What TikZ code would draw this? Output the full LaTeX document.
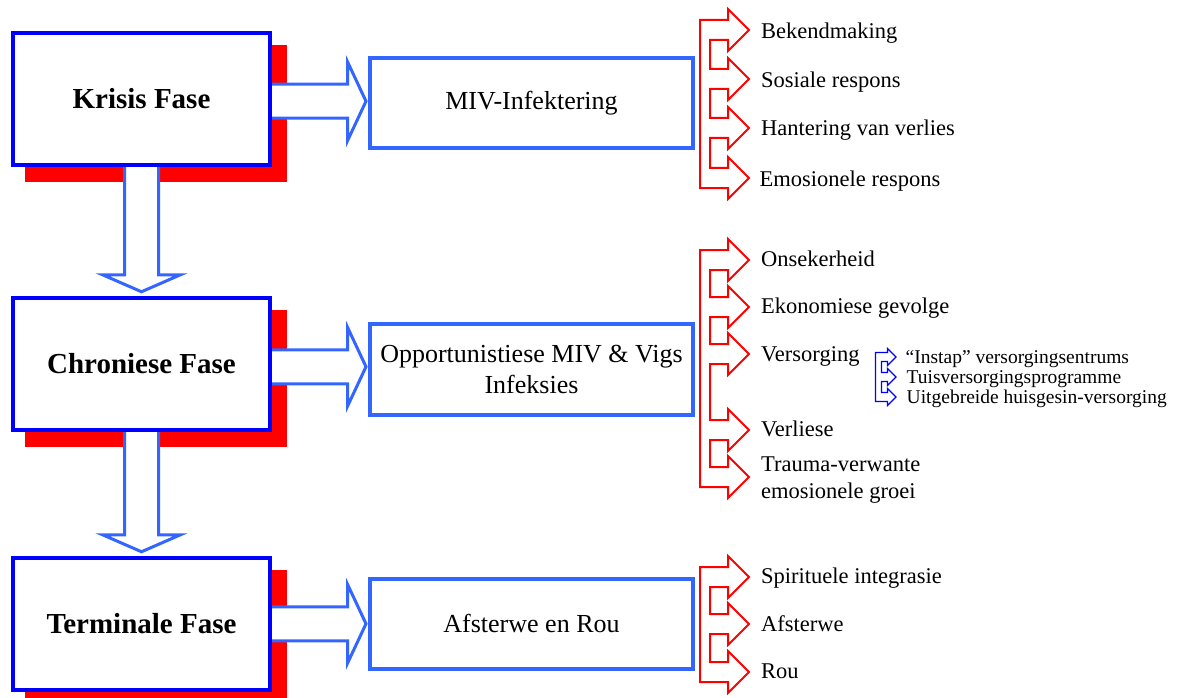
\documentclass[tikz,border=0pt]{standalone}
\usepackage{fontspec}
\setmainfont{Liberation Serif}
\usetikzlibrary{calc,backgrounds}
\definecolor{boxblue}{RGB}{0,0,255}
\definecolor{lightblue}{RGB}{51,102,255}
\definecolor{shadowred}{RGB}{255,0,0}
\tikzset{
 phase/.style={draw=boxblue, line width=4.5pt, fill=white, minimum width=257pt, minimum height=132pt, inner sep=0pt, font=\fontsize{29}{34}\selectfont\bfseries},
 stage/.style={draw=lightblue, line width=4pt, fill=white, minimum width=323pt, minimum height=90pt, inner sep=0pt, align=center, font=\fontsize{26}{31}\selectfont},
 fatarrow/.style={draw=lightblue, line width=3pt, fill=white, line join=miter},
 redcomb/.style={draw=shadowred, line width=2pt, line join=miter},
 bluecomb/.style={draw=boxblue, line width=1.2pt, line join=miter},
 lbl/.style={anchor=base west, inner sep=0pt, font=\fontsize{22.5}{27.5}\selectfont},
 sublbl/.style={anchor=base west, inner sep=0pt, font=\fontsize{19.5}{20}\selectfont},
}
% comb of arrows: #1 style, #2 first centre, #3 all centres, #4 last centre
\newcommand\comb[4]{%
  \draw[#1] (\co,#2-\cs) \foreach \c in {#3} { -- (\ci,\c-\cs) -- (\cb,\c-\cs) -- (\cb,\c-\ch) -- (\ct,\c) -- (\cb,\c+\ch) -- (\cb,\c+\cs) -- (\ci,\c+\cs) } -- (\co,#4+\cs) -- cycle;}
\newcommand\fatright[2]{%
  \coordinate (M) at ($(#1.east)!0.5!(#2.west)$);
  \coordinate (S) at (#1.east |- M);
  \coordinate (E) at (#2.west |- M);
  \draw[fatarrow] ($(S)+(-6,-17)$) -- ($(E)+(-20.5,-17)$) -- ($(E)+(-20.5,-39.5)$) -- ($(E)+(-2,0)$) -- ($(E)+(-20.5,39.5)$) -- ($(E)+(-20.5,17)$) -- ($(S)+(-6,17)$) -- cycle;}
\newcommand\fatdown[2]{%
  \coordinate (S) at (#1.south);
  \coordinate (E) at (#2.north);
  \draw[fatarrow] ($(S)+(-17,-6)$) -- ($(E)+(-17,-21)$) -- ($(E)+(-39,-21)$) -- ($(E)+(0,-4)$) -- ($(E)+(39,-21)$) -- ($(E)+(17,-21)$) -- ($(S)+(17,-6)$) -- cycle;}
\begin{document}
\begin{tikzpicture}[x=1pt,y=-1pt]
\useasboundingbox (0,0) rectangle (1181,698);
% phase boxes
\node[phase] (k) at (141.5,99) {Krisis Fase};
\node[phase] (c) at (141.5,364) {Chroniese Fase};
\node[phase] (t) at (141.5,624) {Terminale Fase};
% stage boxes
\node[stage] (m1) at (531.5,103.5) {MIV-Infektering};
\node[stage, minimum height=91pt] (m2) at (531.5,369.5) {Opportunistiese MIV \& Vigs\\Infeksies};
\node[stage] (m3) at (531.5,623.5) {Afsterwe en Rou};
\begin{scope}[on background layer]
  \fill[white] (0,0) rectangle (1181,698);
  \foreach \n in {k,c,t}
    \fill[shadowred] ($(\n.north west)+(14,14)$) rectangle ($(\n.south east)+(15,15)$);
  \fatright{k}{m1}
  \fatright{c}{m2}
  \fatright{t}{m3}
  \fatdown{k}{c}
  \fatdown{c}{t}
\end{scope}
% red combs
\def\co{700}\def\ci{710}\def\cb{728}\def\ct{749}\def\cs{10}\def\ch{21}
\comb{redcomb}{30}{30,79,128,178}{178}
\comb{redcomb}{260}{260,307,354,430,477}{477}
\comb{redcomb}{577}{577,624,672}{672}
% small blue comb
\def\co{875.5}\def\ci{881.5}\def\cb{887.5}\def\ct{896}\def\cs{4.5}\def\ch{8.5}
\comb{bluecomb}{357}{357,377,397}{397}
% labels
\node[lbl] (l1) at (761,38.5) {Bekendmaking};
\node[lbl] (l2) at (761,87.3) {Sosiale respons};
\node[lbl] (l3) at (761,135.5) {Hantering van verlies};
\node[lbl] (l4) at (759.5,186.7) {Emosionele respons};
\node[lbl] (l5) at (761,266.7) {Onsekerheid};
\node[lbl] (l6) at (761,313.5) {Ekonomiese gevolge};
\node[lbl] (l7) at (761,361.7) {Versorging};
\node[lbl] (l8) at (761,436.7) {Verliese};
\node[lbl, anchor=west, align=left] (l9) at (761,480) {Trauma-verwante\\emosionele groei};
\node[lbl] (l10) at (761,583.3) {Spirituele integrasie};
\node[lbl] (l11) at (761,631.7) {Afsterwe};
\node[lbl] (l12) at (761,678.3) {Rou};
\node[sublbl] (s1) at (905.5,363.3) {“Instap” versorgingsentrums};
\node[sublbl] (s2) at (906.5,383.3) {Tuisversorgingsprogramme};
\node[sublbl] (s3) at (906.5,403.3) {Uitgebreide huisgesin-versorging};
\end{tikzpicture}
\end{document}
